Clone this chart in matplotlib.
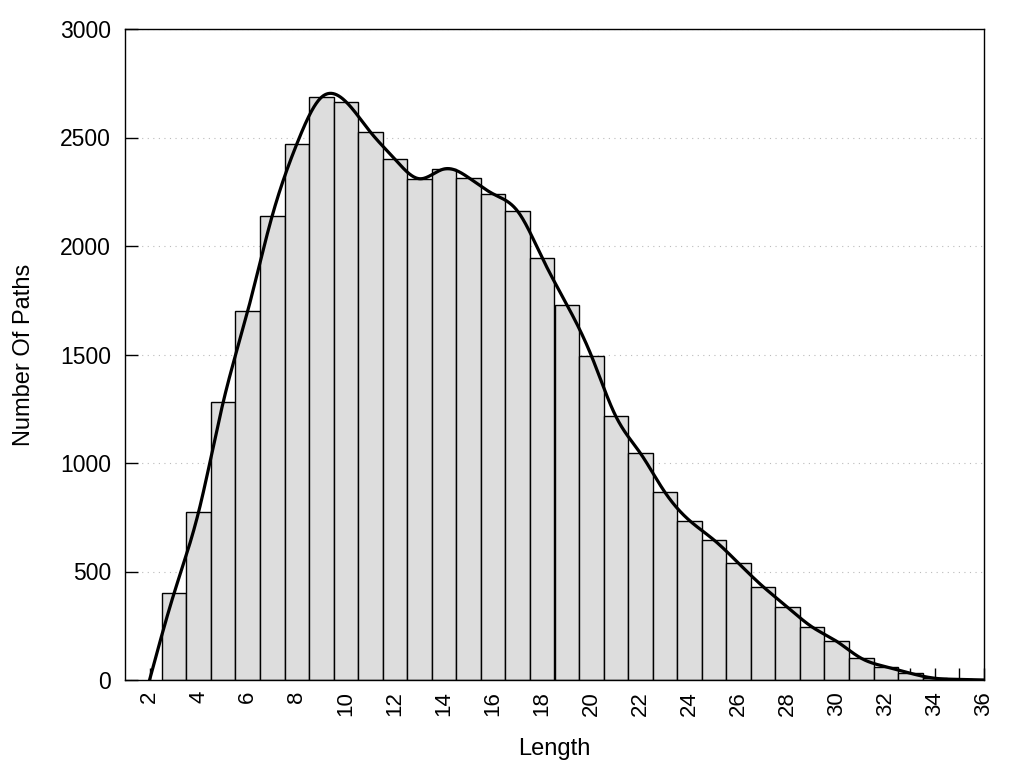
import numpy as np
import matplotlib
matplotlib.use("Agg")
import matplotlib.pyplot as plt

plt.rcParams['font.family'] = ['Liberation Sans', 'DejaVu Sans']

lengths = list(range(3, 36))
counts = [400, 775, 1280, 1700, 2140, 2470, 2685, 2665, 2525, 2400,
          2310, 2355, 2315, 2240, 2160, 1945, 1730, 1495, 1215, 1045,
          865, 735, 645, 538, 430, 335, 244, 178, 100, 61,
          31, 8, 3]
curve_x = [2] + lengths + [36]
curve_y = [0] + counts + [0]
xtick_vals = list(range(2, 37, 2))
ytick_vals = [0, 500, 1000, 1500, 2000, 2500, 3000]


def natural_spline(x, y, n=2000):
    x = np.asarray(x, float)
    y = np.asarray(y, float)
    m = len(x)
    h = np.diff(x)
    A = np.zeros((m, m))
    b = np.zeros(m)
    A[0, 0] = 1
    A[-1, -1] = 1
    for i in range(1, m - 1):
        A[i, i - 1] = h[i - 1]
        A[i, i] = 2 * (h[i - 1] + h[i])
        A[i, i + 1] = h[i]
        b[i] = 6 * ((y[i + 1] - y[i]) / h[i] - (y[i] - y[i - 1]) / h[i - 1])
    M = np.linalg.solve(A, b)
    xs = np.linspace(x[0], x[-1], n)
    idx = np.clip(np.searchsorted(x, xs) - 1, 0, m - 2)
    x0, x1 = x[idx], x[idx + 1]
    hh = x1 - x0
    t0 = x1 - xs
    t1 = xs - x0
    ys = (M[idx] * t0 ** 3 / (6 * hh) + M[idx + 1] * t1 ** 3 / (6 * hh)
          + (y[idx] / hh - M[idx] * hh / 6) * t0
          + (y[idx + 1] / hh - M[idx + 1] * hh / 6) * t1)
    return xs, ys


fig = plt.figure(figsize=(10.24, 7.68), dpi=100)
ax = fig.add_axes([125 / 1024, 1 - 680 / 768, (984 - 125) / 1024, (680 - 29) / 768])

ax.set_axisbelow(True)
ax.bar(lengths, counts, width=1.0, color='#dddddd', edgecolor='black', linewidth=1.0, zorder=2)
xs, ys = natural_spline(curve_x, curve_y)
ax.plot(xs, ys, color='black', linewidth=2.3, zorder=3, clip_on=True)

ax.set_xlim(1, 36)
ax.set_ylim(0, 3000)
ax.set_xticks(xtick_vals)
ax.set_xticklabels([str(v) for v in xtick_vals], rotation=90, fontsize=16)
ax.set_xticks(lengths + [36], minor=True)
ax.set_yticks(ytick_vals)
ax.set_yticklabels([str(v) for v in ytick_vals], fontsize=16.5)
ax.tick_params(axis='both', which='both', direction='in', length=9, width=1, top=False, right=False)
ax.tick_params(axis='x', which='major', pad=8)
ax.tick_params(axis='y', pad=10)
ax.yaxis.grid(True, linestyle=(0, (1, 4)), color='#bbbbbb', linewidth=0.8)
for s in ax.spines.values():
    s.set_linewidth(1.0)

ax.set_xlabel('Length', fontsize=17, labelpad=16)
ax.set_ylabel('Number Of Paths', fontsize=17, labelpad=18)

fig.savefig('out.png', dpi=100)
